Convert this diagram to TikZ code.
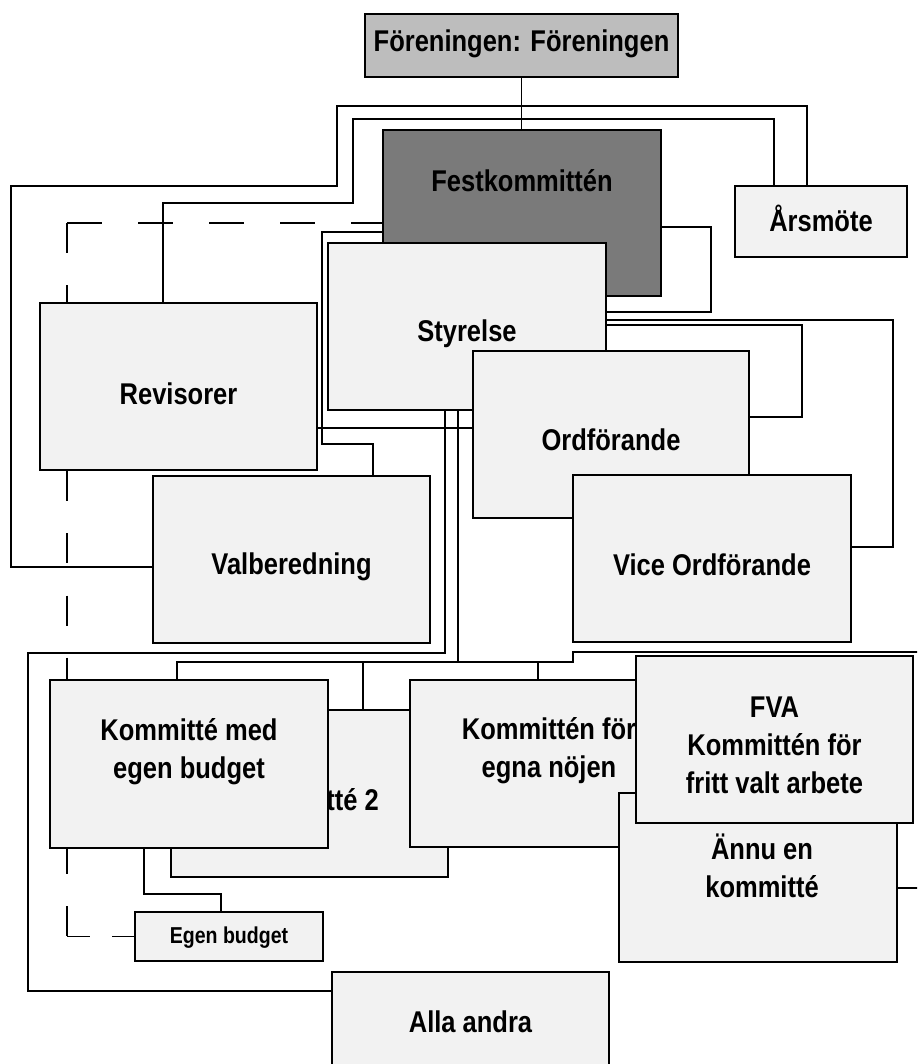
\documentclass[tikz,border=0pt]{standalone}
\usepackage{fontspec}
\setmainfont{Liberation Sans}[FakeStretch=0.85]
\usetikzlibrary{calc}
\definecolor{boxfill}{gray}{0.95}
\definecolor{forefill}{gray}{0.74}
\definecolor{festfill}{gray}{0.48}
\tikzset{
 box/.style={draw=black, line width=1.8pt, inner sep=0pt, outer sep=0pt},
 lbl/.style={font=\fontsize{30}{38}\selectfont\bfseries, align=center, inner sep=0pt, text=black},
 smalllbl/.style={font=\fontsize{23}{28}\selectfont\bfseries, align=center, inner sep=0pt, text=black},
 conn/.style={line width=1.2pt, draw=black},
 dashtop/.style={conn, dash pattern=on 35pt off 36pt},
 dashvert/.style={conn, dash pattern=on 30pt off 32.09pt},
 dashbot/.style={conn, dash pattern=on 23pt off 22pt}
}
\newcommand\sL{\rule[-6pt]{0pt}{28pt}}
\newcommand\sS{\rule[-4.5pt]{0pt}{21pt}}
% name, x1, y1, x2, y2, fill, label style + yshift, text
\newcommand\mybox[8]{%
 \node[box, fill=#6, minimum width={(#4-#2)*1pt}, minimum height={(#5-#3)*1pt},
   label={[#7]center:{#8}}] (#1) at ({(#2+#4)/2},{(#3+#5)/2}) {};}
\begin{document}
\begin{tikzpicture}[x=1pt,y=-1pt]
\useasboundingbox (0,0) rectangle (917,1064);
\clip (0,0) rectangle (917,1064);
\fill[white] (0,0) rectangle (917,1064);

% invisible first pass: places the named boxes so connectors can refer to them
\begin{scope}[opacity=0]
\mybox{fore}{365}{14}{678}{77}{forefill}{lbl}{}
\mybox{fest}{383}{130}{661}{296}{festfill}{lbl}{}
\mybox{ars}{735}{186}{907}{257}{boxfill}{lbl}{}
\mybox{sty}{328}{243}{606}{410}{boxfill}{lbl}{}
\mybox{ord}{473}{351}{749}{518}{boxfill}{lbl}{}
\mybox{vice}{573}{475}{851}{642}{boxfill}{lbl}{}
\mybox{rev}{40}{303}{317}{470}{boxfill}{lbl}{}
\mybox{val}{153}{476}{430}{643}{boxfill}{lbl}{}
\mybox{ktwo}{171}{710}{448}{877}{boxfill}{lbl}{}
\mybox{kmeb}{50}{680}{328}{848}{boxfill}{lbl}{}
\mybox{eb}{135}{912}{323}{961}{boxfill}{lbl}{}
\mybox{noj}{410}{680}{688}{847}{boxfill}{lbl}{}
\mybox{annu}{619}{793}{897}{962}{boxfill}{lbl}{}
\mybox{fva}{636}{656}{913}{823}{boxfill}{lbl}{}
\mybox{alla}{332}{972}{609}{1072}{boxfill}{lbl}{}
\end{scope}

% ---------- connectors
\draw[conn] (fore.south) -- (fore.south |- fest.north);
\draw[conn] ($(ars.north west)+(39,0)$) |- (353,119) |- (163,203) -- ($(rev.north west)+(123,0)$);
\draw[conn] ($(ars.north west)+(72,0)$) |- (337,106) |- (11,186) |- ($(val.west)+(0,7.5)$);
\draw[conn] ($(fest.north west)+(0,102)$) -| (322,444) -| ($(val.north west)+(220,0)$);
% dashed connector Festkommitten -> Egen budget
\coordinate (dA) at ($(fest.north west)+(-316,93)$);
\coordinate (dB) at ($(eb.west)+(-68,0)$);
\draw[dashtop] (dA) -- ($(fest.north west)+(0,93)$);
\draw[dashvert] (dA) -- (dB);
\draw[dashbot] (dB) -- (eb.west);
\draw[conn] ($(fest.north east)+(0,97)$) -| (711,312) -- ($(sty.north east)+(0,69)$);
\draw[conn] ($(sty.north east)+(0,82)$) -| (802,417) -- ($(ord.north east)+(0,66)$);
\draw[conn] ($(sty.north east)+(0,77)$) -| (893,547) -- ($(vice.north east)+(0,72)$);
\draw[conn] ($(rev.north east)+(0,125)$) -- ($(ord.north west)+(0,77)$);
\draw[conn] ($(sty.south west)+(117,0)$) |- (28,653) |- ($(alla.north west)+(0,19)$);
\draw[conn] ($(sty.south west)+(130,0)$) -- (458,662);
\draw[conn] ($(kmeb.north west)+(127,0)$) |- (573,662) |- (930,652) |- ($(annu.north east)+(0,95)$);
\draw[conn] ($(ktwo.north west)+(192,0)$) -- ++(0,-48);
\draw[conn] ($(noj.north west)+(128,0)$) -- ++(0,-18);
\draw[conn] ($(kmeb.south west)+(94,0)$) |- (221,894) -- ($(eb.north west)+(86,0)$);

% ---------- boxes (visible), in stacking order
\mybox{fore}{365}{14}{678}{77}{forefill}{lbl,yshift=1.5pt}{\sL Föreningen: Föreningen}
\mybox{ars}{735}{186}{907}{257}{boxfill}{lbl,yshift=0.5pt}{\sL Årsmöte}
\mybox{fest}{383}{130}{661}{296}{festfill}{lbl,yshift=29pt}{\sL Festkommittén}
\mybox{sty}{328}{243}{606}{410}{boxfill}{lbl,yshift=-7.5pt}{\sL Styrelse}
\mybox{ord}{473}{351}{749}{518}{boxfill}{lbl,yshift=-7.5pt}{\sL Ordförande}
\mybox{vice}{573}{475}{851}{642}{boxfill}{lbl,yshift=-8.5pt}{\sL Vice Ordförande}
\mybox{rev}{40}{303}{317}{470}{boxfill}{lbl,yshift=-9.5pt}{\sL Revisorer}
\mybox{val}{153}{476}{430}{643}{boxfill}{lbl,yshift=-7.5pt}{\sL Valberedning}
\mybox{ktwo}{171}{710}{448}{877}{boxfill}{lbl,yshift=-8.5pt}{\sL Kommitté 2}
\mybox{kmeb}{50}{680}{328}{848}{boxfill}{lbl,yshift=12pt}{\sL Kommitté med\\\sL egen budget}
\mybox{eb}{135}{912}{323}{961}{boxfill}{smalllbl,yshift=-1pt}{\sS Egen budget}
\mybox{noj}{410}{680}{688}{847}{boxfill}{lbl,yshift=12.5pt}{\sL Kommittén för\\\sL egna nöjen}
\mybox{annu}{619}{793}{897}{962}{boxfill}{lbl,yshift=8.5pt,xshift=4pt}{\sL Ännu en\\\sL kommitté}
\mybox{fva}{636}{656}{913}{823}{boxfill}{lbl,yshift=-7.5pt}{\sL FVA\\\sL Kommittén för\\\sL fritt valt arbete}
\mybox{alla}{332}{972}{609}{1072}{boxfill}{lbl,yshift=-2pt}{\sL Alla andra}
\end{tikzpicture}
\end{document}
